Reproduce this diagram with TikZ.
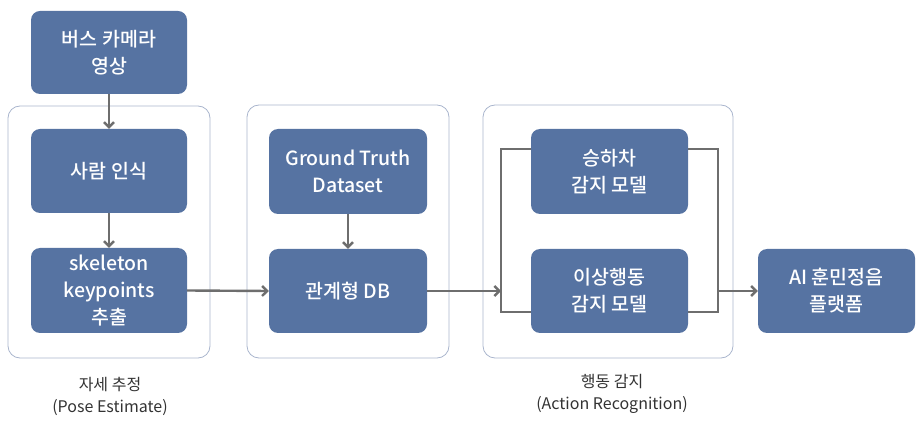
\documentclass[tikz,border=0pt]{standalone}
\usepackage{fontspec}
\setmainfont{Noto Sans CJK KR}
\newfontfamily\medfont{Noto Sans CJK KR}[UprightFont=* Medium]
\usetikzlibrary{arrows.meta}
\definecolor{boxblue}{HTML}{5673A2}
\definecolor{linegray}{HTML}{6E6E6E}
\definecolor{framec}{HTML}{A9B5CD}
\definecolor{labelc}{HTML}{333333}
\begin{document}
\begin{tikzpicture}[x=1pt,y=-1pt,
  blk/.style={fill=boxblue,rounded corners=9pt,draw=none},
  frm/.style={draw=framec,line width=0.8pt,rounded corners=12pt},
  btxt/.style={text=white,font=\medfont\fontsize{19.5}{27}\selectfont,align=center,inner sep=0pt},
  ltxt/.style={text=labelc,font=\fontsize{16}{22}\selectfont,align=center,inner sep=0pt},
  conn/.style={draw=linegray,line width=2.4pt},
  arr/.style={conn,-{Straight Barb[length=5pt,width=10pt,line width=2.4pt]}}]
\useasboundingbox (0,0) rectangle (923,427);
% frames
\draw[frm] (8,106) rectangle (210,358);
\draw[frm] (247,105) rectangle (449,358);
\draw[frm] (483,105) rectangle (733,358);
% blocks
\path[blk] (31,11) rectangle (187,94);
\path[blk] (31,129) rectangle (187,213);
\path[blk] (31,248) rectangle (187,333);
\path[blk] (269,129) rectangle (427,214);
\path[blk] (269,249) rectangle (427,333);
\path[blk] (531,129) rectangle (688,214);
\path[blk] (531,249) rectangle (688,333);
\path[blk] (758,249) rectangle (915,333);
% text nodes (sized to block)
\node[btxt,minimum width=156pt,minimum height=83pt] (bus) at (109,52.5) {버스 카메라\\영상};
\node[btxt,minimum width=156pt,minimum height=84pt] (person) at (109,171) {사람 인식};
\node[btxt,minimum width=156pt,minimum height=85pt] (skel) at (109,290.5) {skeleton\\keypoints\\추출};
\node[btxt,minimum width=158pt,minimum height=85pt] (gt) at (348,171.5) {Ground Truth\\Dataset};
\node[btxt,minimum width=158pt,minimum height=84pt] (db) at (348,291) {관계형 DB};
\node[btxt,minimum width=157pt,minimum height=85pt] (board) at (609.5,171.5) {승하차\\감지 모델};
\node[btxt,minimum width=157pt,minimum height=84pt] (abn) at (609.5,291) {이상행동\\감지 모델};
\node[btxt,minimum width=157pt,minimum height=84pt] (ai) at (836.5,291) {AI 훈민정음\\플랫폼};
% labels
\node[ltxt] (lab1) at (110,396) {자세 추정\\(Pose Estimate)};
\node[ltxt] (lab2) at (612,394) {행동 감지\\(Action Recognition)};
% connectors
\coordinate (lt) at (501,149);
\coordinate (lb) at (501,312);
\coordinate (lm) at (501,291);
\coordinate (rt) at (718,149);
\coordinate (rb) at (718,312);
\coordinate (rm) at (718,291);
\draw[arr] (bus.south) -- (person.north);
\draw[arr] (person.south) -- (skel.north);
\draw[arr] (gt.south) -- (db.north);
\draw[arr] (skel.east) -- (db.west);
\draw[arr] (db.east) -- (lm);
\draw[conn] (board.west |- lt) -- (lt) -- (lb) -- (abn.west |- lb);
\draw[conn] (board.east |- rt) -- (rt) -- (rb) -- (abn.east |- rb);
\draw[arr] (rm) -- (ai.west);
\end{tikzpicture}
\end{document}
